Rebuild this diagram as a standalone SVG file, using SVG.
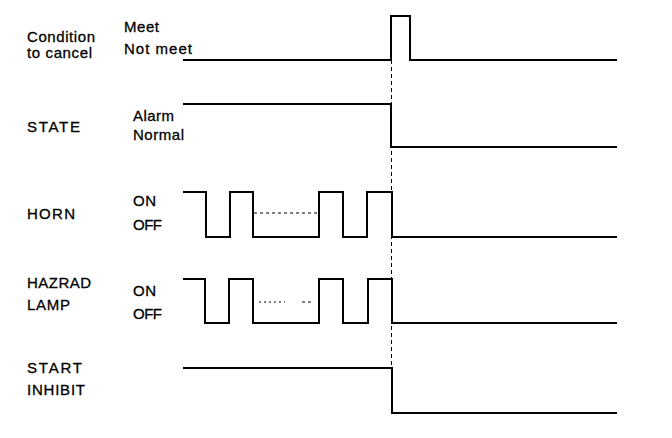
<svg xmlns="http://www.w3.org/2000/svg" width="672" height="438" viewBox="0 0 672 438">
<style>
.bg{fill:#fff}
text{font-family:"Liberation Sans",Arial,Helvetica,sans-serif;font-size:15px;fill:#000;stroke:#000;stroke-width:0.3}
.wave{fill:none;stroke:#000;stroke-width:2;stroke-linejoin:miter}
.guide{fill:none;stroke:#000;stroke-width:1;stroke-dasharray:4 3}
.dot{fill:none;stroke:#000;stroke-width:1.2;stroke-dasharray:3 3}
</style>
<rect class="bg" x="0" y="0" width="672" height="438"/>
<g id="connectors">
<line class="guide" x1="391.5" y1="60" x2="391.5" y2="368"/>
</g>
<g id="condition">
<text x="27" y="42" textLength="68" lengthAdjust="spacing">Condition</text>
<text x="27" y="58" textLength="65" lengthAdjust="spacing">to cancel</text>
<text x="124" y="32" textLength="35" lengthAdjust="spacing">Meet</text>
<text x="124" y="54" textLength="68" lengthAdjust="spacing">Not meet</text>
<path class="wave" d="M183,60 H391 V16 H410 V60 H617"/>
</g>
<g id="state">
<text x="27" y="132" textLength="53" lengthAdjust="spacing">STATE</text>
<text x="133" y="121" textLength="41" lengthAdjust="spacing">Alarm</text>
<text x="133" y="140" textLength="51" lengthAdjust="spacing">Normal</text>
<path class="wave" d="M183,104 H391 V147 H617"/>
</g>
<g id="horn">
<text x="27" y="219" textLength="48" lengthAdjust="spacing">HORN</text>
<text x="133" y="206" textLength="23" lengthAdjust="spacing">ON</text>
<text x="133" y="230" textLength="29" lengthAdjust="spacing">OFF</text>
<path class="wave" d="M183,192 H206 V237 H230 V192 H253 V237 H319 V192 H343 V237 H367 V192 H392 V237 H617"/>
<line class="dot" x1="254" y1="213" x2="318" y2="213"/>
</g>
<g id="hazard-lamp">
<text x="27" y="288" textLength="64" lengthAdjust="spacing">HAZRAD</text>
<text x="27" y="310" textLength="43" lengthAdjust="spacing">LAMP</text>
<text x="133" y="296" textLength="23" lengthAdjust="spacing">ON</text>
<text x="133" y="319" textLength="29" lengthAdjust="spacing">OFF</text>
<path class="wave" d="M183,279 H205 V323 H229 V279 H253 V323 H319 V279 H343 V323 H368 V279 H392 V323 H617"/>
<line fill="none" stroke="#000" stroke-width="1.2" stroke-dasharray="2 3" x1="259" y1="302" x2="285" y2="302"/>
<line fill="none" stroke="#000" stroke-width="1.2" stroke-dasharray="3 3" x1="302" y1="302" x2="311" y2="302"/>
</g>
<g id="start-inhibit">
<text x="27" y="373" textLength="55" lengthAdjust="spacing">START</text>
<text x="27" y="395" textLength="58" lengthAdjust="spacing">INHIBIT</text>
<path class="wave" d="M183,368 H392 V413 H617"/>
</g>
</svg>
